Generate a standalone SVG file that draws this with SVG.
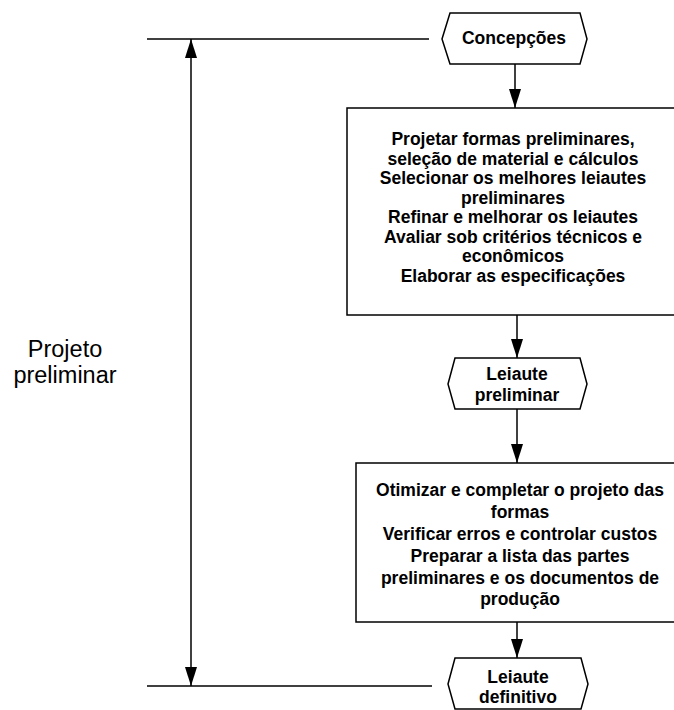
<svg xmlns="http://www.w3.org/2000/svg" width="674" height="710" viewBox="0 0 674 710">
<style>
.shape{fill:#fff;stroke:#000;stroke-width:1.5}
.line{fill:none;stroke:#000;stroke-width:1.5}
.t{font-family:"Liberation Sans",Arial,sans-serif;font-weight:bold;font-size:17.5px;text-anchor:middle;fill:#000}
.lbl{font-family:"Liberation Sans",Arial,sans-serif;font-size:23.5px;text-anchor:middle;fill:#000}
</style>
<defs>
<marker id="ah" viewBox="0 0 19 12" refX="19" refY="6" markerWidth="19" markerHeight="12" markerUnits="userSpaceOnUse" orient="auto-start-reverse">
<path d="M0,0 L19,6 L0,12 z" fill="#000"/>
</marker>
</defs>
<rect width="674" height="710" fill="#fff"/>
<g id="connectors">
<line class="line" x1="147" y1="39" x2="429" y2="39"/>
<line class="line" x1="147" y1="686" x2="432" y2="686"/>
<line class="line" x1="191" y1="39" x2="191" y2="686" marker-start="url(#ah)" marker-end="url(#ah)"/>
<line class="line" x1="515" y1="64" x2="515" y2="108" marker-end="url(#ah)"/>
<line class="line" x1="517" y1="315" x2="517" y2="358" marker-end="url(#ah)"/>
<line class="line" x1="517" y1="409" x2="517" y2="463" marker-end="url(#ah)"/>
<line class="line" x1="517" y1="622" x2="517" y2="658" marker-end="url(#ah)"/>
</g>
<g id="label-projeto">
<text class="lbl" x="65" y="357">Projeto</text>
<text class="lbl" x="65" y="383">preliminar</text>
</g>
<g id="concepcoes">
<polygon class="shape" points="442,39 450,13 580,13 587,39 580,64 450,64"/>
<text class="t" x="514" y="44">Concepções</text>
</g>
<g id="box1">
<rect class="shape" x="347" y="108" width="360" height="207"/>
<text class="t" x="513" y="145">Projetar formas preliminares,</text>
<text class="t" x="513" y="164.5">seleção de material e cálculos</text>
<text class="t" x="513" y="184">Selecionar os melhores leiautes</text>
<text class="t" x="513" y="203.5">preliminares</text>
<text class="t" x="513" y="223">Refinar e melhorar os leiautes</text>
<text class="t" x="513" y="242.5">Avaliar sob critérios técnicos e</text>
<text class="t" x="513" y="262">econômicos</text>
<text class="t" x="513" y="281.5">Elaborar as especificações</text>
</g>
<g id="leiaute-preliminar">
<polygon class="shape" points="448,384 455,358 580,358 587,384 580,409 455,409"/>
<text class="t" x="517" y="380">Leiaute</text>
<text class="t" x="517" y="401">preliminar</text>
</g>
<g id="box2">
<rect class="shape" x="356" y="463" width="350" height="159"/>
<text class="t" x="520" y="496">Otimizar e completar o projeto das</text>
<text class="t" x="520" y="518">formas</text>
<text class="t" x="520" y="540">Verificar erros e controlar custos</text>
<text class="t" x="520" y="562">Preparar a lista das partes</text>
<text class="t" x="520" y="584">preliminares e os documentos de</text>
<text class="t" x="520" y="605">produção</text>
</g>
<g id="leiaute-definitivo">
<polygon class="shape" points="448,684 455,658 581,658 588,684 581,709 455,709"/>
<text class="t" x="518" y="683">Leiaute</text>
<text class="t" x="518" y="703">definitivo</text>
</g>
</svg>
